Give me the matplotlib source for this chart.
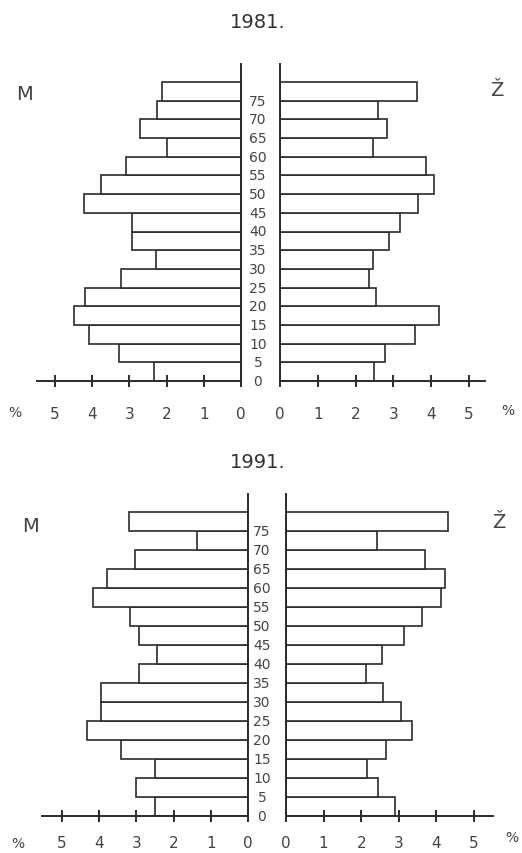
import numpy as np
import matplotlib
matplotlib.use("Agg")
import matplotlib.pyplot as plt
import matplotlib.transforms as mtransforms

# age groups (lower bound of each 5-year band, last one is 75+)
ages = [0, 5, 10, 15, 20, 25, 30, 35, 40, 45, 50, 55, 60, 65, 70, 75]
age_labels = ['0', '5', '10', '15', '20', '25', '30', '35', '40', '45',
              '50', '55', '60', '65', '70', '75']

# share of population in % (bottom to top)
m_1981 = [2.34, 3.28, 4.09, 4.50, 4.19, 3.22, 2.29, 2.92, 2.92, 4.23,
          3.76, 3.10, 2.00, 2.72, 2.25, 2.12]
z_1981 = [2.48, 2.79, 3.57, 4.20, 2.55, 2.36, 2.45, 2.88, 3.17, 3.66,
          4.07, 3.85, 2.46, 2.83, 2.58, 3.63]
m_1991 = [2.49, 3.01, 2.49, 3.42, 4.33, 3.96, 3.96, 2.94, 2.44, 2.94,
          3.17, 4.17, 3.80, 3.03, 1.36, 3.20]
z_1991 = [2.90, 2.46, 2.16, 2.67, 3.36, 3.05, 2.58, 2.14, 2.55, 3.13,
          3.62, 4.12, 4.22, 3.70, 2.43, 4.30]
pct_ticks = [0, 1, 2, 3, 4, 5]

W, H = 522, 854
INK = '#2b2b2b'
plt.rcParams['font.family'] = ['DejaVu Sans']

fig = plt.figure(figsize=(W / 100, H / 100), dpi=100)
fig.patch.set_facecolor('white')


def axes_px(left, top, right, bottom):
    return fig.add_axes([left / W, 1 - bottom / H, (right - left) / W, (bottom - top) / H])


def side(ax, values, xmax, ymax, left_side, pad):
    ax.barh(np.array(ages) + 2.5, values, height=5, color='white',
            edgecolor=INK, linewidth=1.2)
    ax.set_ylim(0, ymax)
    if left_side:
        ax.set_xlim(xmax, 0)
        keep = ['right', 'bottom']
    else:
        ax.set_xlim(0, xmax)
        keep = ['left', 'bottom']
    for s in ['left', 'right', 'top', 'bottom']:
        ax.spines[s].set_visible(s in keep)
        ax.spines[s].set_color(INK)
        ax.spines[s].set_linewidth(1.4)
    ax.set_yticks([])
    ax.set_xticks(pct_ticks)
    ax.set_xticklabels([str(t) for t in pct_ticks])
    ax.tick_params(axis='x', direction='inout', length=8, width=1.4,
                   color=INK, labelsize=11, labelcolor='#444444', pad=pad)
    ax.set_facecolor('none')


def pyramid(title, m_vals, z_vals, lpx, rpx, top, first_bar, bottom,
            label_x, title_y, m_pos, z_pos, pl_pos, pr_pos, pad):
    # lpx = (left edge, zero, px per 1 %) ; rpx = (zero, right edge, px per 1 %)
    l_left, l_zero, l_scale = lpx
    r_zero, r_right, r_scale = rpx
    ymax = (bottom - top) / ((bottom - first_bar) / 80)
    axl = axes_px(l_left, top, l_zero, bottom)
    axr = axes_px(r_zero, top, r_right, bottom)
    side(axl, m_vals, (l_zero - l_left) / l_scale, ymax, True, pad)
    side(axr, z_vals, (r_right - r_zero) / r_scale, ymax, False, pad)
    tr = mtransforms.blended_transform_factory(fig.transFigure, axr.transData)
    for a, lab in zip(ages, age_labels):
        axr.text(label_x / W, a, lab, transform=tr, ha='center', va='center',
                 fontsize=10, color='#444444')
    fig.text(258 / W, 1 - title_y / H, title, ha='center', va='center',
             fontsize=14, color='#333333')
    fig.text(m_pos[0] / W, 1 - m_pos[1] / H, 'M', ha='center', va='center',
             fontsize=14, color='#444444')
    fig.text(z_pos[0] / W, 1 - z_pos[1] / H, 'Ž', ha='center', va='center',
             fontsize=14, color='#444444')
    fig.text(pl_pos[0] / W, 1 - pl_pos[1] / H, '%', ha='center', va='center',
             fontsize=10, color='#444444')
    fig.text(pr_pos[0] / W, 1 - pr_pos[1] / H, '%', ha='center', va='center',
             fontsize=10, color='#444444')


pyramid('1981.', m_1981, z_1981,
        (37, 241, 37.2), (280, 485, 37.8),
        top=65, first_bar=83, bottom=382, label_x=258, title_y=23,
        m_pos=(24, 95), z_pos=(497, 90), pl_pos=(15, 413), pr_pos=(508, 411),
        pad=14)

pyramid('1991.', m_1991, z_1991,
        (42, 248, 37.2), (286, 493, 37.6),
        top=495, first_bar=513, bottom=817, label_x=262, title_y=462,
        m_pos=(30, 527), z_pos=(499, 522), pl_pos=(18, 844), pr_pos=(512, 838),
        pad=10)

fig.savefig('out.png', dpi=100, facecolor='white')
